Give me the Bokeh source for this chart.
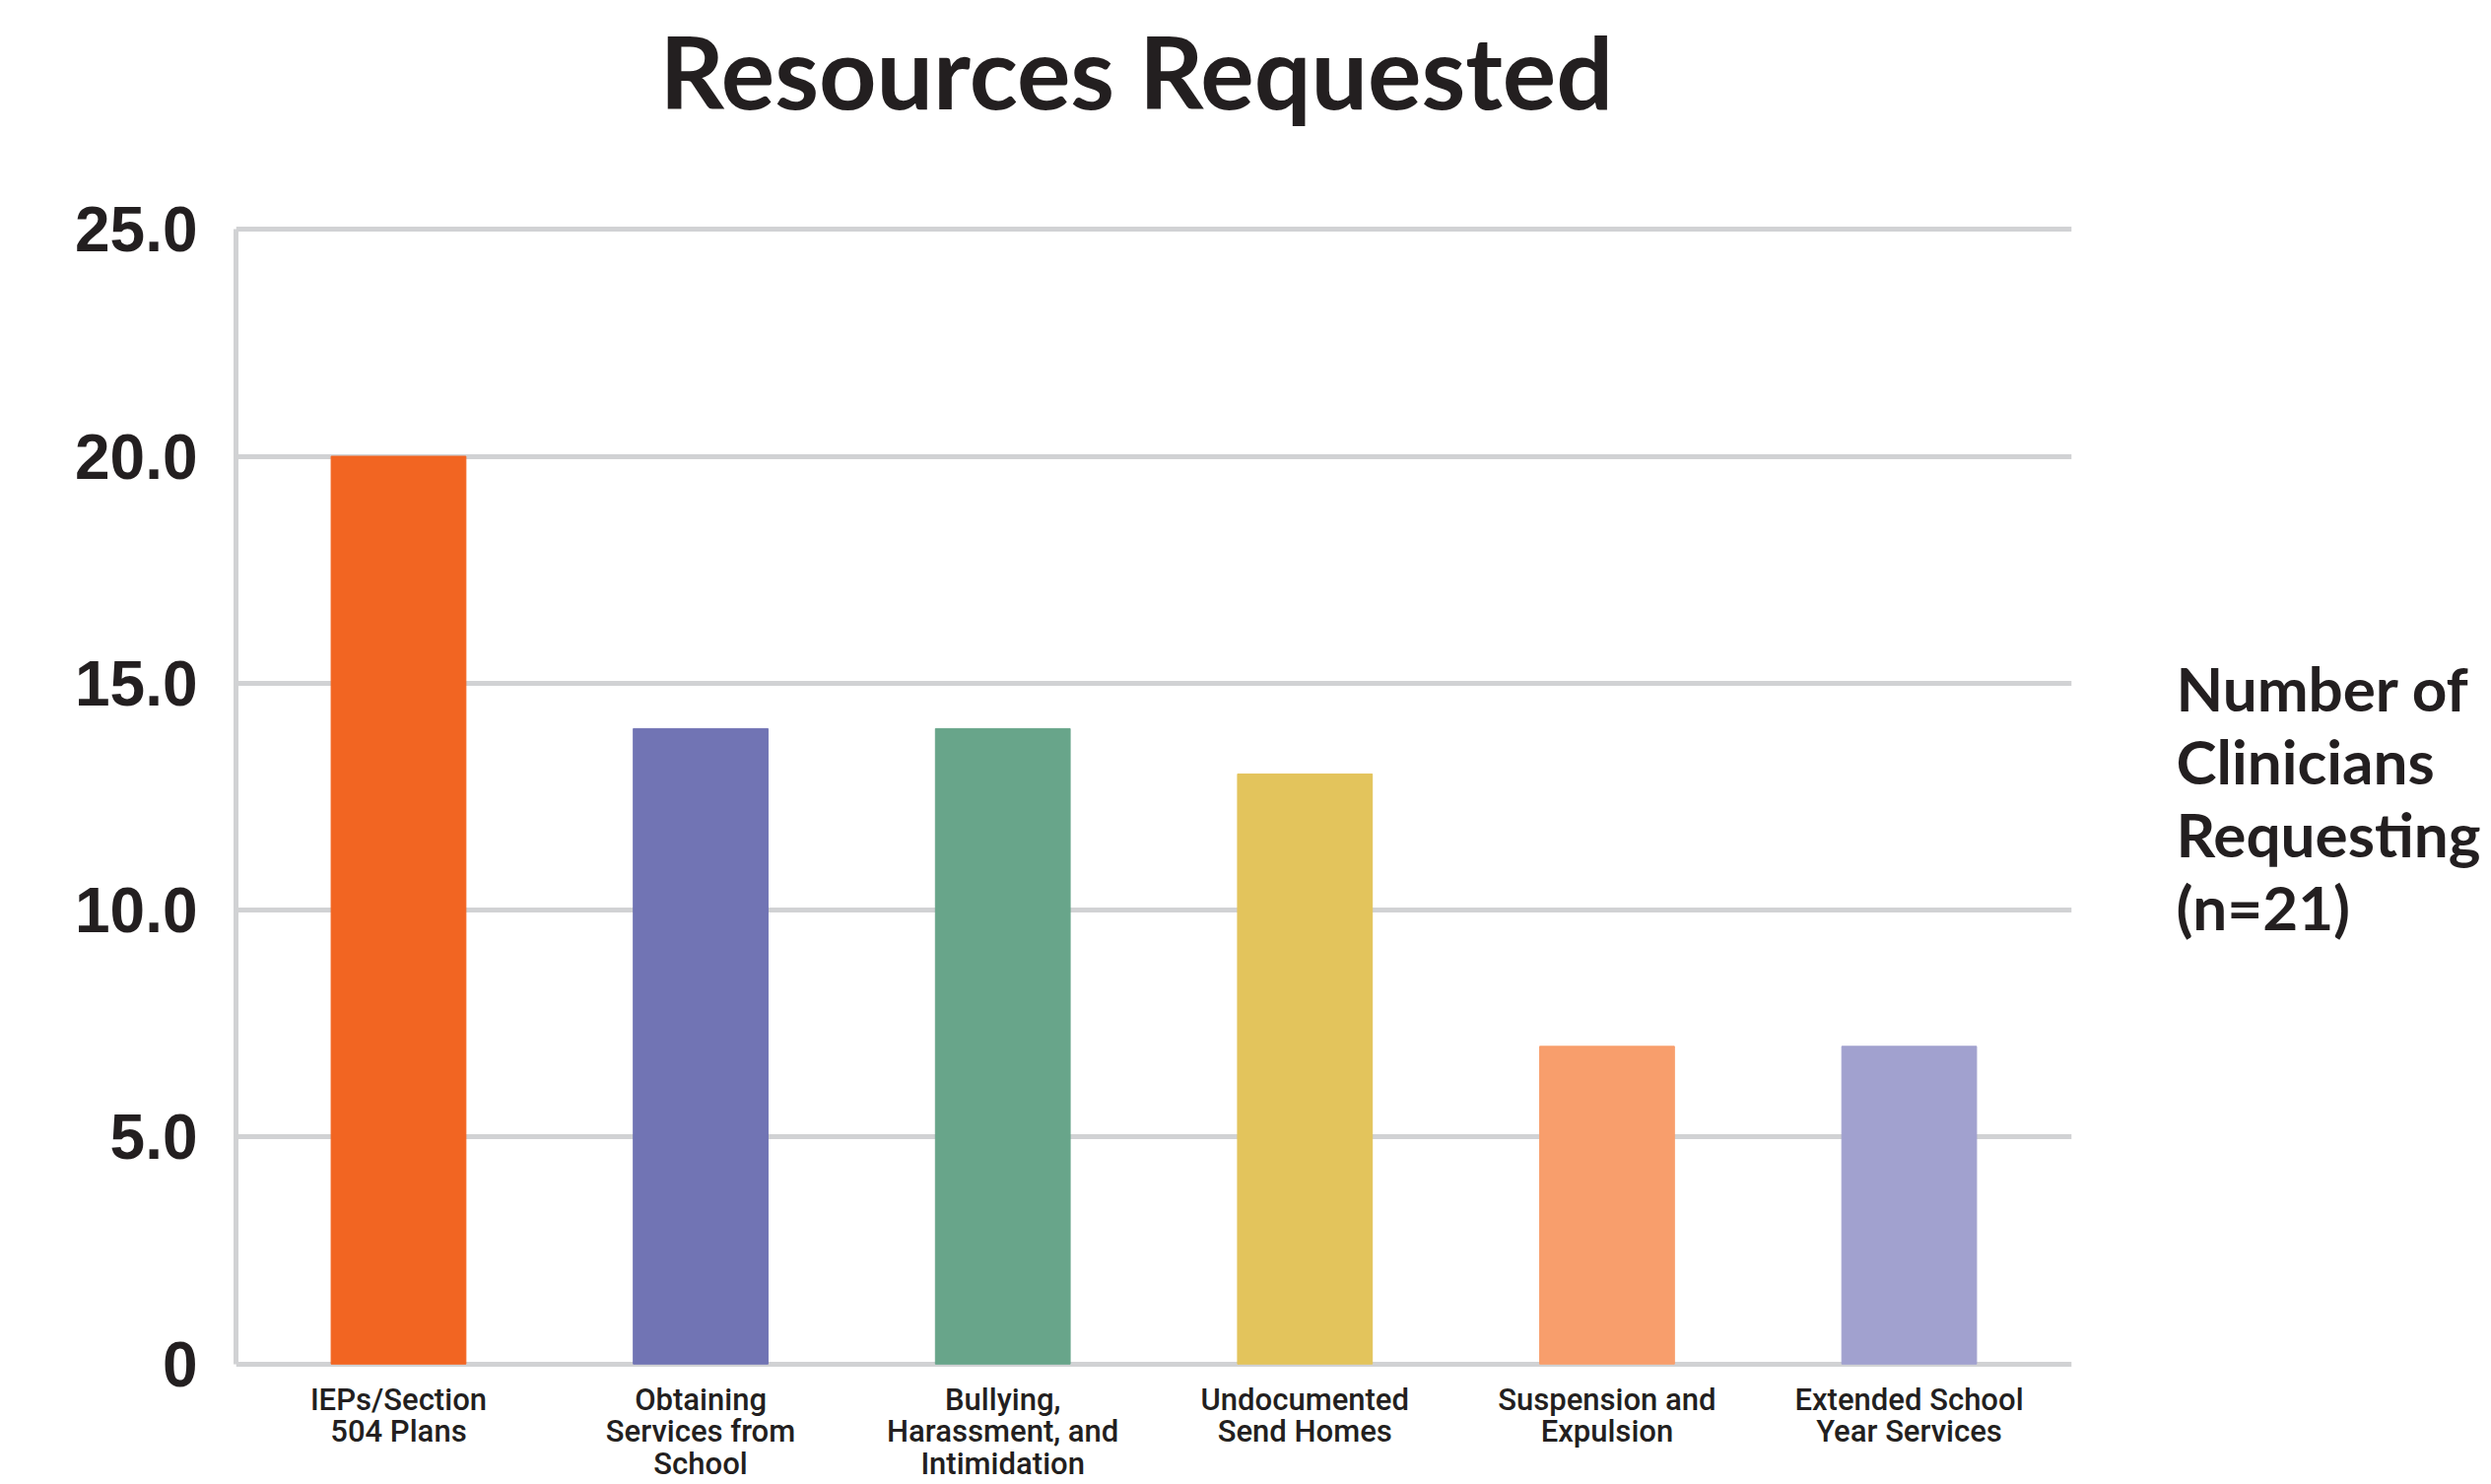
from bokeh.plotting import figure
from bokeh.models import Range1d, FixedTicker, LinearAxis, ColumnDataSource
from bokeh.embed import file_html
from bokeh.resources import INLINE

# ---- data ----
categories = [
    "IEPs/Section\n504 Plans",
    "Obtaining\nServices from\nSchool",
    "Bullying,\nHarassment, and\nIntimidation",
    "Undocumented\nSend Homes",
    "Suspension and\nExpulsion",
    "Extended School\nYear Services",
]
clinicians = [20, 14, 14, 13, 7, 7]
bar_colors = ["#F26522", "#7174B4", "#68A58A", "#E3C45C", "#F89E6C", "#A1A1CF"]
y_ticks = [0, 5, 10, 15, 20, 25]
y_tick_labels = ["0", "5.0", "10.0", "15.0", "20.0", "25.0"]
title_text = "Resources Requested"
side_label = "Number of\nClinicians\nRequesting\n(n=21)"

TEXT = "#231F20"
GRID = "#D1D2D4"

W, H = 2520, 1506
FL, FR, FT = 239, 2104, 223

p = figure(width=W, height=H, output_backend="svg", toolbar_location=None,
           x_range=Range1d(-0.538, 5.538), y_range=Range1d(-0.2, 25.2),
           min_border_left=FL, min_border_right=W - FR,
           min_border_top=FT, min_border_bottom=100,
           title=title_text)
p.outline_line_color = None
p.background_fill_color = "white"
p.border_fill_color = "white"

p.title.align = "left"
p.title.offset = 430
p.title.text_font = "Lato"
p.title.text_font_style = "bold"
p.title.text_font_size = "102px"
p.title.text_color = TEXT
if hasattr(p.title, "standoff"):
    p.title.standoff = 4

xs = list(range(len(categories)))
src = ColumnDataSource(dict(x=xs, top=clinicians, color=bar_colors))
p.vbar(x="x", top="top", bottom=0, width=0.446, color="color", source=src)

# x axis: category labels
xax = p.xaxis[0]
xax.ticker = FixedTicker(ticks=xs)
xax.major_label_overrides = {i: c for i, c in zip(xs, categories)}
xax.major_label_text_font = "Roboto Medium, Roboto"
xax.major_label_text_font_size = "31px"
xax.major_label_text_color = TEXT
xax.major_label_text_line_height = 0.88
xax.major_label_standoff = 2
xax.major_tick_line_color = None
xax.minor_tick_line_color = None
xax.axis_line_color = None
p.xgrid.visible = False

# invisible top axis used only as spacing between frame and title
spacer = LinearAxis(ticker=FixedTicker(ticks=[2.5]))
spacer.major_tick_line_color = None
spacer.major_tick_in = 0
spacer.major_tick_out = 89
spacer.minor_tick_line_color = None
spacer.axis_line_color = None
spacer.major_label_text_font_size = "0px"
spacer.major_label_standoff = 0
spacer.major_label_overrides = {2.5: ""}
p.add_layout(spacer, "above")

# y axis
yax = p.yaxis[0]
yax.ticker = FixedTicker(ticks=y_ticks)
yax.major_label_overrides = {t: l for t, l in zip(y_ticks, y_tick_labels)}
yax.major_label_text_font = "Liberation Sans"
yax.major_label_text_font_style = "bold"
yax.major_label_text_font_size = "64px"
yax.major_label_text_color = TEXT
yax.major_label_standoff = 33
yax.major_tick_line_color = None
yax.minor_tick_line_color = None
yax.axis_line_color = GRID
yax.axis_line_width = 5
yax.bounds = (0, 25)
p.ygrid.ticker = FixedTicker(ticks=y_ticks)
p.ygrid.grid_line_color = GRID
p.ygrid.grid_line_width = 5

# right-hand axis title
rax = LinearAxis(ticker=FixedTicker(ticks=[]), axis_label=side_label)
rax.axis_line_color = None
rax.major_tick_line_color = None
rax.minor_tick_line_color = None
rax.major_label_text_font_size = "0px"
rax.axis_label_text_font = "Lato"
rax.axis_label_text_font_style = "bold"
rax.axis_label_text_font_size = "62px"
rax.axis_label_text_color = TEXT
rax.axis_label_text_line_height = 1.0
rax.axis_label_standoff = 106
if hasattr(rax, "axis_label_orientation"):
    rax.axis_label_orientation = "horizontal"
rax.axis_label_text_align = "left"
p.add_layout(rax, "right")

open("out.html", "w").write(file_html(p, INLINE))
